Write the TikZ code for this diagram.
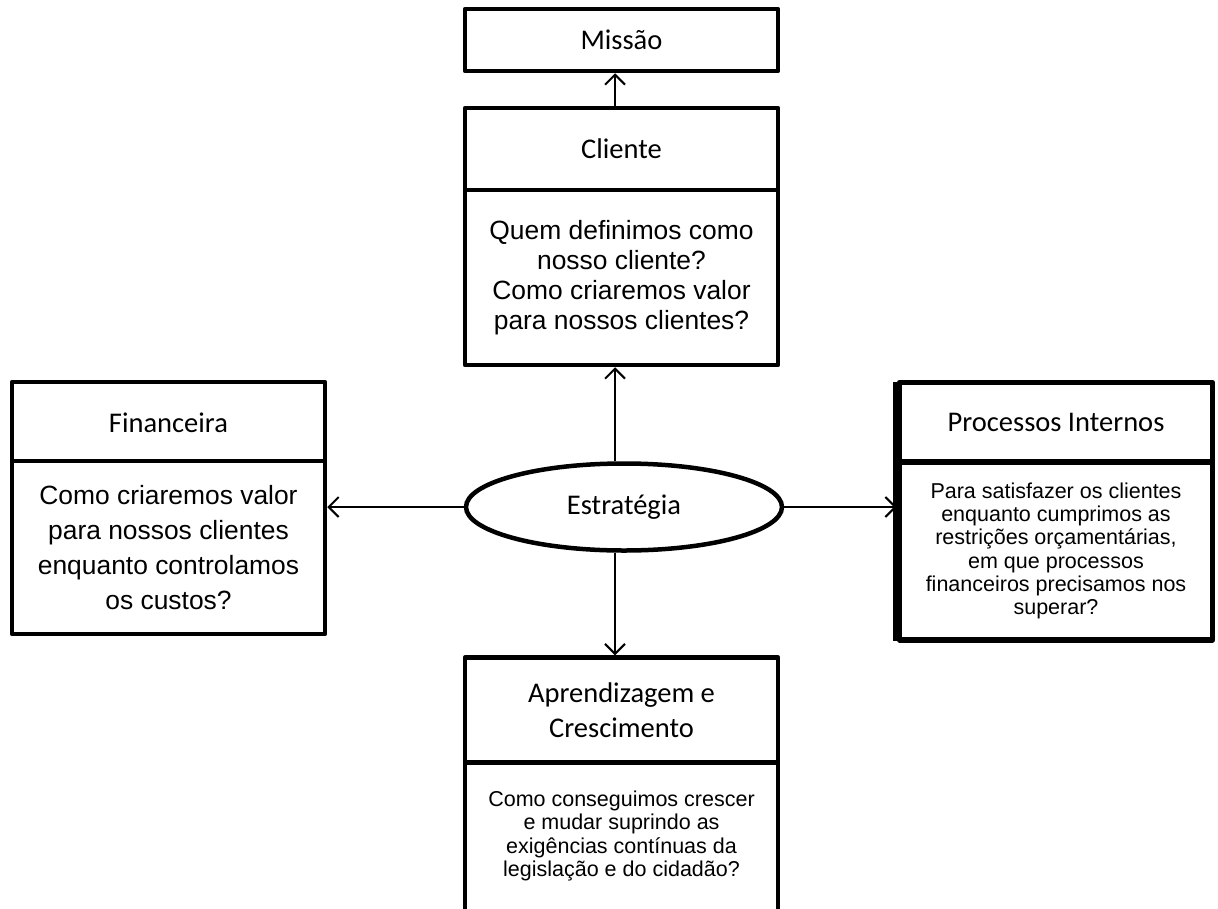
\documentclass[tikz,border=0pt]{standalone}
\usepackage{fontspec}
\setmainfont{Carlito}
\newfontfamily\arialfont{Liberation Sans}
\usetikzlibrary{arrows.meta,shapes.geometric}

\tikzset{
  card/.style={draw=black, line width=4.5pt, line join=round, fill=white,
    minimum width=313pt, inner sep=0pt, align=center},
  headfont/.style={font=\fontsize{28.5}{35}\selectfont},
  bigbody/.style={font=\arialfont\fontsize{26.4}{35}\selectfont},
  smallbody/.style={font=\arialfont\fontsize{21.5}{23.3}\selectfont},
  arr/.style={draw=black, line width=2pt, -{Straight Barb[length=10pt,width=20pt,line width=2pt]}},
}

\begin{document}
\begin{tikzpicture}[x=1pt, y=-1pt]
\useasboundingbox (0,0) rectangle (1218,908);

% central axis of the vertical connectors
\coordinate (axis) at (615,0);

% mission
\node[card, headfont, minimum height=62pt] (missao) at (621.5,40) {Missão};

% customer perspective
\node[card, headfont, minimum height=82pt] (clihead) at (621.5,149) {Cliente};
\node[card, minimum height=175pt, font=\arialfont\fontsize{26.4}{30}\selectfont] (clibody) at (621.5,277.5)
  {Quem definimos como\\nosso cliente?\\Como criaremos valor\\para nossos clientes?};

% financial perspective
\node[card, headfont, minimum height=81pt] (finhead) at (168.5,422.5) {Financeira};
\node[card, bigbody, minimum height=173pt] (finbody) at (168.5,547.5)
  {Como criaremos valor\\para nossos clientes\\enquanto controlamos\\os custos?};

% internal processes perspective
\node[card, headfont, line width=5.5pt, minimum height=80pt] (prochead) at (1056,422.5) {Processos Internos};
\node[card, smallbody, line width=5.5pt, minimum height=178pt] (procbody) at (1056,551)
  {Para satisfazer os clientes\\enquanto cumprimos as\\restrições orçamentárias,\\em que processos\\financeiros precisamos nos\\superar?};
\draw[line width=8pt, line cap=butt] ([yshift=-2pt]prochead.north west) -- ([yshift=2pt]procbody.south west);

% learning and growth perspective
\node[card, headfont, minimum height=105pt] (aprhead) at (621.5,710) {Aprendizagem e\\Crescimento};
\node[card, minimum height=190pt] (aprbody) at (621.5,858) {};
\node[smallbody, align=center] (aprtext) at (621.5,836)
  {Como conseguimos crescer\\e mudar suprindo as\\exigências contínuas da\\legislação e do cidadão?};

% strategy
\node[draw=black, line width=4.5pt, fill=white, ellipse, minimum width=316pt, minimum height=87pt,
  inner sep=0pt, headfont] (estr) at (624,507) {Estratégia};

% connectors
\draw[arr] (axis |- clihead.north) -- (axis |- missao.south);
\draw[arr] (axis |- estr.north) -- (axis |- clibody.south);
\draw[arr] (axis |- estr.south) -- (axis |- aprhead.north);
\draw[arr] (estr.west) -- (estr.west -| finbody.east);
\draw[arr] (estr.east) -- (estr.east -| procbody.west);
\end{tikzpicture}
\end{document}
